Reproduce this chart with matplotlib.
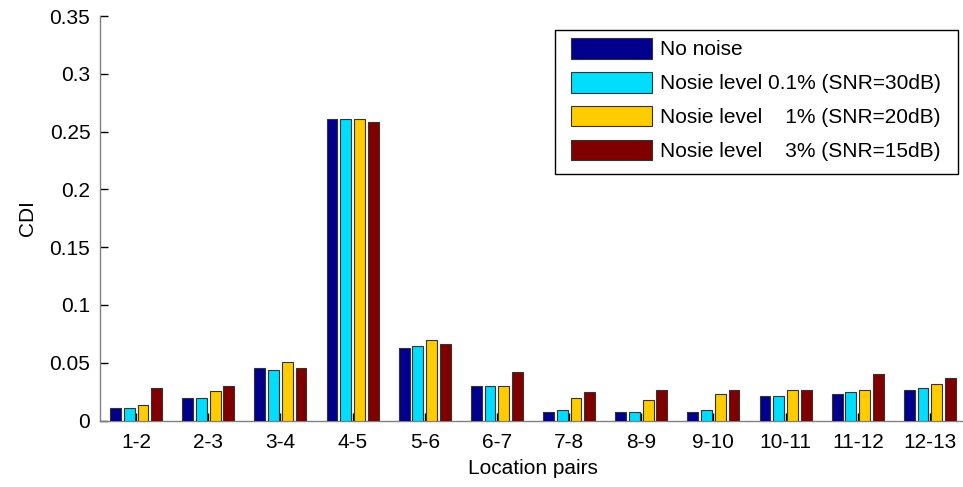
import matplotlib
matplotlib.use("Agg")
import matplotlib.pyplot as plt
from matplotlib.patches import Rectangle
import numpy as np

plt.rcParams['font.family'] = ['Liberation Sans', 'DejaVu Sans']

categories = ['1-2', '2-3', '3-4', '4-5', '5-6', '6-7', '7-8', '8-9', '9-10', '10-11', '11-12', '12-13']
no_noise   = [0.0104, 0.0193, 0.0452, 0.2610, 0.0625, 0.0297, 0.0072, 0.0072, 0.0072, 0.0210, 0.0228, 0.0262]
noise_01   = [0.0104, 0.0193, 0.0435, 0.2610, 0.0642, 0.0297, 0.0089, 0.0072, 0.0089, 0.0210, 0.0245, 0.0279]
noise_1    = [0.0138, 0.0259, 0.0504, 0.2610, 0.0694, 0.0297, 0.0193, 0.0176, 0.0228, 0.0262, 0.0262, 0.0314]
noise_3    = [0.0279, 0.0297, 0.0452, 0.2584, 0.0660, 0.0418, 0.0245, 0.0262, 0.0262, 0.0262, 0.0400, 0.0366]
series_labels = ['No noise',
                 'Nosie level 0.1% (SNR=30dB)',
                 'Nosie level    1% (SNR=20dB)',
                 'Nosie level    3% (SNR=15dB)']
y_ticks = [0, 0.05, 0.1, 0.15, 0.2, 0.25, 0.3, 0.35]
y_tick_labels = ['0', '0.05', '0.1', '0.15', '0.2', '0.25', '0.3', '0.35']

colors = ['#00008C', '#00DDFF', '#FFCC00', '#800000']
series = [no_noise, noise_01, noise_1, noise_3]

W, H = 963, 487
fig = plt.figure(figsize=(W / 100, H / 100), dpi=100)
ax = fig.add_axes([100 / W, 66.5 / H, 866 / W, 404.5 / H])

x = np.arange(1, len(categories) + 1)
pitch = 0.19
width = 0.15
for i, (vals, c, lab) in enumerate(zip(series, colors, series_labels)):
    ax.bar(x + (i - 1.5) * pitch, vals, width=width, color=c, edgecolor='#333333',
           linewidth=0.8, label=lab, zorder=3)

ax.set_xlim(0.5, 12.5)
ax.set_ylim(0, 0.35)
ax.set_xticks(x)
ax.set_xticklabels(categories)
ax.set_yticks(y_ticks)
ax.set_yticklabels(y_tick_labels)

for s in ['top', 'right']:
    ax.spines[s].set_visible(False)
for s in ['left', 'bottom']:
    ax.spines[s].set_color('#808080')
    ax.spines[s].set_linewidth(1.0)

ax.tick_params(axis='both', direction='in', length=6, width=1.0, color='black',
               labelsize=15)
ax.tick_params(axis='y', pad=7)
ax.tick_params(axis='x', pad=9)

ax.set_xlabel('Location pairs', fontsize=15, labelpad=5)
ax.set_ylabel('CDI', fontsize=15, labelpad=9)

# legend box (frame drawn separately to get MATLAB-like wider horizontal padding)
ax.add_patch(Rectangle((555 / W, 1 - 174 / H), 403 / W, 144 / H,
                       transform=fig.transFigure, facecolor='white',
                       edgecolor='black', linewidth=1.0, zorder=4, clip_on=False))
leg = ax.legend(loc='upper left', bbox_to_anchor=(570.5 / W, 1 - 38 / H),
                bbox_transform=fig.transFigure, fontsize=15,
                handlelength=3.9, handleheight=1.15, labelspacing=0.6,
                handletextpad=0.38, borderpad=0.0, borderaxespad=0,
                frameon=False)
leg.set_zorder(5)

fig.savefig('out.png', dpi=100)
